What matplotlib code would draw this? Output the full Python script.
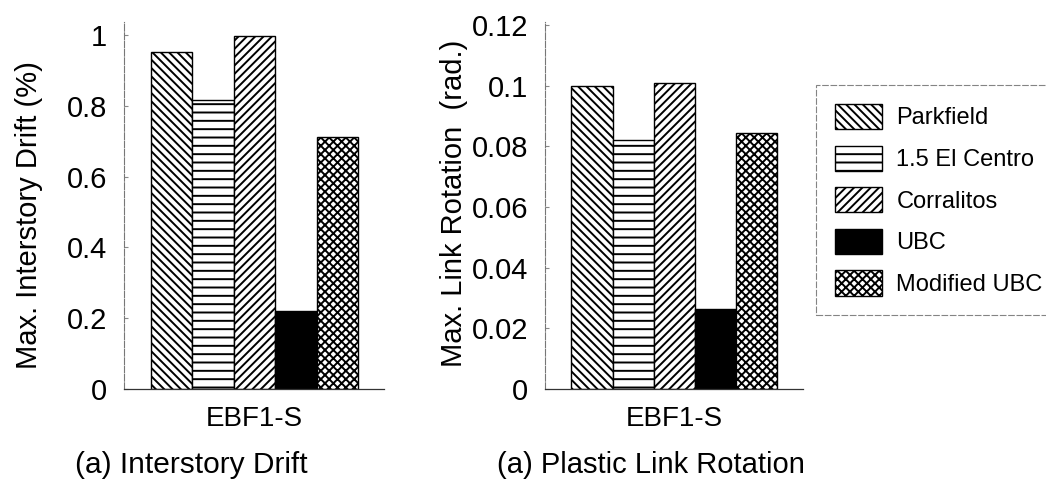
import matplotlib
matplotlib.use("Agg")
import matplotlib.pyplot as plt

plt.rcParams['font.family'] = ['Liberation Sans', 'DejaVu Sans']
plt.rcParams['hatch.linewidth'] = 1.4
plt.rcParams['hatch.color'] = 'black'

records = ["Parkfield", "1.5 El Centro", "Corralitos", "UBC", "Modified UBC"]
drift = [0.952, 0.816, 0.997, 0.221, 0.711]
rotation = [0.1, 0.082, 0.101, 0.0264, 0.0843]
hatches = ['\\\\\\\\', '--', '////', '', 'xxxx']
fills = ['white', 'white', 'white', 'black', 'white']
frame = "EBF1-S"

fig = plt.figure(figsize=(10.46, 4.82), dpi=100)
ax1 = fig.add_axes([0.1185, 0.193, 0.2486, 0.761])
ax2 = fig.add_axes([0.521, 0.193, 0.2467, 0.761])


def draw(ax, vals, ylim, ticks, ticklabels, ylabel):
    bars = []
    for i in range(len(vals)):
        b = ax.bar(i, vals[i], width=1.0, color=fills[i], edgecolor='black',
                   hatch=hatches[i], linewidth=1.0, label=records[i])
        bars.append(b)
    ax.set_xlim(-1.14, 5.12)
    ax.set_ylim(*ylim)
    ax.set_yticks(ticks)
    ax.set_yticklabels(ticklabels)
    ax.set_xticks([2])
    ax.set_xticklabels([frame], fontsize=20)
    ax.tick_params(axis='x', length=0, pad=12)
    ax.tick_params(axis='y', direction='in', length=3, color='#888888',
                   labelsize=21, pad=12)
    for s in ['top', 'right']:
        ax.spines[s].set_visible(False)
    ax.spines['left'].set_color('#777777')
    ax.spines['left'].set_linewidth(0.8)
    ax.spines['left'].set_linestyle((0, (6, 1.5)))
    ax.spines['bottom'].set_color('#333333')
    ax.spines['bottom'].set_linewidth(0.9)
    ax.set_ylabel(ylabel, fontsize=21)
    return bars


bars = draw(ax1, drift, (0, 1.037), [0, 0.2, 0.4, 0.6, 0.8, 1.0],
            ['0', '0.2', '0.4', '0.6', '0.8', '1'], 'Max. Interstory Drift (%)')
draw(ax2, rotation, (0, 0.121), [0, 0.02, 0.04, 0.06, 0.08, 0.1, 0.12],
     ['0', '0.02', '0.04', '0.06', '0.08', '0.1', '0.12'], 'Max. Link Rotation  (rad.)')

ax1.yaxis.set_label_coords(-0.31, 0.474)
ax2.yaxis.set_label_coords(-0.30, 0.507)

fig.text(191 / 1046, 1 - 465 / 482, "(a) Interstory Drift", fontsize=21.5,
         ha='center', va='center')
fig.text(651 / 1046, 1 - 465 / 482, "(a) Plastic Link Rotation", fontsize=21,
         ha='center', va='center')

leg = fig.legend([b[0] for b in bars], records, loc='upper left',
                 bbox_to_anchor=(816 / 1046, 0.3, 0.25, 1 - 85 / 482 - 0.3),
                 mode='expand', borderaxespad=0, fontsize=17,
                 handlelength=2.0, handleheight=1.27, labelspacing=0.68,
                 handletextpad=0.6, borderpad=0.8, fancybox=False)
leg.get_frame().set_edgecolor('#666666')
leg.get_frame().set_linewidth(0.8)
leg.get_frame().set_linestyle((0, (6, 1.5)))

fig.savefig("out.png", dpi=100)
